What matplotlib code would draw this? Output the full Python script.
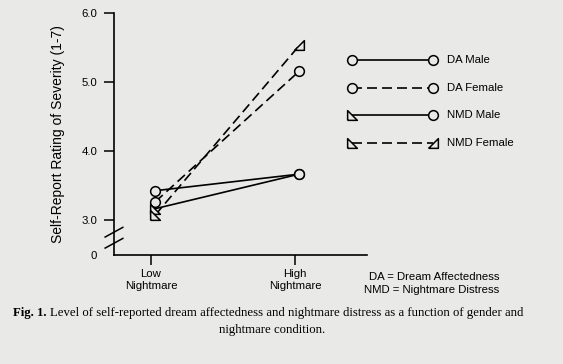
import numpy as np
import matplotlib.pyplot as plt

# values (y axis is broken: 0 sits where 2.5 would be)
conditions = ['Low\nNightmare', 'High\nNightmare']
da_male = [3.43, 3.67]
da_female = [3.27, 5.16]
nmd_male = [3.17, 3.67]
nmd_female = [3.08, 5.53]
y_ticks = [2.5, 3.0, 4.0, 5.0, 6.0]
y_labels = ['0', '3.0', '4.0', '5.0', '6.0']
series_names = ['DA Male', 'DA Female', 'NMD Male', 'NMD Female']

bg = '#e9e9e7'
W, H = 563, 364
fs = 8.2

plt.rcParams['font.family'] = ['Liberation Sans', 'DejaVu Sans']

def px(x, y):
    return x / W, 1 - y / H

tri_a = [(-1, -1), (-1, 1), (1, -1), (-1, -1)]
tri_b = [(-1, -1), (1, -1), (1, 1), (-1, -1)]
styles = {
    'DA Male': ('-', 'o', 'o'),
    'DA Female': ('--', 'o', 'o'),
    'NMD Male': ('-', tri_a, 'o'),
    'NMD Female': ('--', tri_a, tri_b),
}
values = {'DA Male': da_male, 'DA Female': da_female,
          'NMD Male': nmd_male, 'NMD Female': nmd_female}

fig = plt.figure(figsize=(W / 100, H / 100), dpi=100, facecolor=bg)
ax = fig.add_axes([114 / W, 1 - 255 / H, (367 - 114) / W, (255 - 13) / H])
ax.set_facecolor(bg)

x = np.arange(len(conditions)) + 0.03
for name in series_names:
    ls, m0, m1 = styles[name]
    yv = values[name]
    ax.plot(x, yv, color='black', lw=1.2, ls=ls, dashes=(6, 3) if ls == '--' else (None, None),
            zorder=2)
    ax.plot(x[0], yv[0], marker=m0, ms=7, mfc=bg, mec='black', mew=1.1, zorder=3)
    ax.plot(x[1], yv[1], marker=m1, ms=7, mfc=bg, mec='black', mew=1.1, zorder=3)

ax.set_xlim(-0.257, 1.5)
ax.set_ylim(2.5, 6.0)
ax.set_xticks(np.arange(len(conditions)))
ax.set_xticklabels(conditions, fontsize=fs, linespacing=1.3)
ax.set_yticks(y_ticks)
ax.set_yticklabels(y_labels, fontsize=fs)
ax.yaxis.get_major_ticks()[0].tick1line.set_visible(False)
ax.tick_params(axis='both', length=7, width=1.1, color='black', direction='out')
ax.tick_params(axis='y', pad=5)
ax.tick_params(axis='x', pad=3)
for s in ['top', 'right']:
    ax.spines[s].set_visible(False)
for s in ['left', 'bottom']:
    ax.spines[s].set_linewidth(1.2)
ax.set_ylabel('Self-Report Rating of Severity (1-7)', fontsize=10, labelpad=12)

# axis break marks
for yb in [2.67, 2.83]:
    ax.plot([-0.035, 0.035], [yb - 0.07, yb + 0.07], color='black', lw=1.1,
            transform=ax.get_yaxis_transform(), clip_on=False)

# hand-made legend (different end markers per series)
leg_y = [60, 88, 115, 143]
for name, yy in zip(series_names, leg_y):
    ls, m0, m1 = styles[name]
    xa, ya = px(352, yy)
    xb, _ = px(433, yy)
    fig.add_artist(plt.Line2D([xa, xb], [ya, ya], color='black', lw=1.2, ls=ls,
                              dashes=(6, 3) if ls == '--' else (None, None)))
    fig.add_artist(plt.Line2D([xa], [ya], marker=m0, ms=7, mfc=bg, mec='black', mew=1.1))
    fig.add_artist(plt.Line2D([xb], [ya], marker=m1, ms=7, mfc=bg, mec='black', mew=1.1))
    fig.text(*px(447, yy), name, fontsize=fs, va='center', ha='left')

fig.text(*px(434, 277), 'DA = Dream Affectedness', fontsize=fs, ha='center', va='center')
fig.text(*px(432, 290), 'NMD = Nightmare Distress', fontsize=fs, ha='center', va='center')

# caption with bold lead
cap_font = ['Liberation Serif', 'DejaVu Serif']
r = fig.canvas.get_renderer()
t1 = fig.text(*px(13, 313), 'Fig. 1.', fontsize=9.2, fontweight='bold', family=cap_font,
              ha='left', va='center')
w1 = t1.get_window_extent(r).width
fig.text((13 + w1 + 4) / W, 1 - 313 / H,
         'Level of self-reported dream affectedness and nightmare distress as a function of gender and',
         fontsize=9.2, family=cap_font, ha='left', va='center')
fig.text(*px(272, 330), 'nightmare condition.', fontsize=9.2, family=cap_font,
         ha='center', va='center')

fig.savefig('out.png', dpi=100, facecolor=bg)
